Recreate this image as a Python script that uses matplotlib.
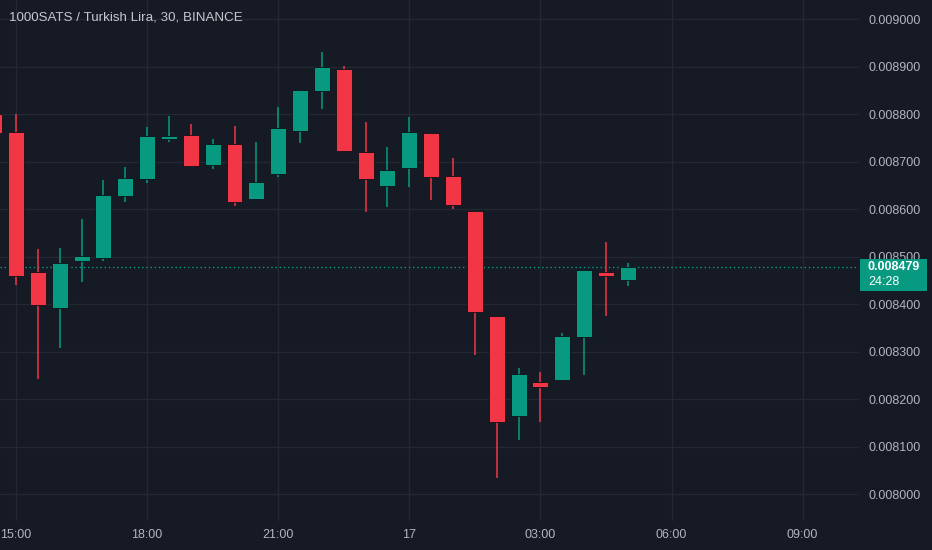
import numpy as np
import matplotlib
matplotlib.use("Agg")
import matplotlib.pyplot as plt
from matplotlib.patches import Rectangle

plt.rcParams["font.family"] = ["Liberation Sans", "DejaVu Sans"]

# 30 minute candles, prices in units of 1e-6 TRY (first candle is 14:30)
opens = [8800, 8763, 8467, 8392, 8491, 8497, 8628, 8663, 8747, 8756, 8692,
         8737, 8621, 8674, 8764, 8848, 8894, 8719, 8648, 8687, 8761, 8670,
         8595, 8375, 8164, 8236, 8240, 8331, 8467, 8451]
highs = [8800, 8800, 8515, 8517, 8580, 8661, 8689, 8772, 8796, 8778, 8748,
         8775, 8742, 8815, 8851, 8931, 8901, 8783, 8731, 8794, 8761, 8707,
         8595, 8375, 8266, 8257, 8338, 8471, 8530, 8486]
lows = [8756, 8440, 8242, 8308, 8447, 8491, 8615, 8654, 8742, 8689, 8684,
        8607, 8621, 8668, 8740, 8810, 8723, 8593, 8604, 8646, 8619, 8600,
        8293, 8033, 8114, 8151, 8240, 8251, 8375, 8437]
closes = [8760, 8460, 8399, 8486, 8501, 8629, 8665, 8754, 8754, 8691, 8737,
          8615, 8656, 8770, 8851, 8898, 8723, 8664, 8682, 8763, 8668, 8609,
          8384, 8151, 8253, 8225, 8333, 8471, 8460, 8479]
first_index = -1
tick_pos = [0, 6, 12, 18, 24, 30, 36]
tick_labels = ["15:00", "18:00", "21:00", "17", "03:00", "06:00", "09:00"]
price_ticks = [8000, 8100, 8200, 8300, 8400, 8500, 8600, 8700, 8800, 8900, 9000]
last_price = 8479
countdown = "24:28"
title = "1000SATS / Turkish Lira, 30, BINANCE"

bg = "#161a25"
grid_c = "#242833"
text_c = "#b2b5be"
up_c = "#089981"
down_c = "#f23645"

o = np.array(opens) * 1e-6
h = np.array(highs) * 1e-6
l = np.array(lows) * 1e-6
c = np.array(closes) * 1e-6
x = np.arange(len(o)) + first_index
cols = np.where(c >= o, up_c, down_c)

W, H = 932, 550
fig = plt.figure(figsize=(W / 100, H / 100), dpi=100, facecolor=bg)
ax = fig.add_axes([0, 29 / H, 859 / W, 521 / H])
ax.set_facecolor(bg)
for s in ax.spines.values():
    s.set_visible(False)

ax.set_xlim(-0.732, 38.58)
ax.set_ylim(0.0079433, 0.0090400)

ax.set_xticks(tick_pos)
ax.set_xticklabels(tick_labels)
ax.set_yticks(np.array(price_ticks) * 1e-6)
ax.set_yticklabels([f"{p * 1e-6:.6f}" for p in price_ticks])
ax.yaxis.tick_right()
ax.tick_params(axis="both", length=0, colors=text_c, labelsize=9)
ax.tick_params(axis="x", pad=6)
ax.tick_params(axis="y", pad=7)
for t in ax.get_yticklabels():
    t.set_horizontalalignment("left")
ax.grid(True, color=grid_c, linewidth=1)
ax.set_axisbelow(True)

# wicks and bodies
ax.vlines(x, l, h, colors=cols, linewidth=1.1, zorder=2)
bottoms = np.minimum(o, c)
heights = np.maximum(np.abs(c - o), 0.0000005)
ax.bar(x, heights, bottom=bottoms, width=0.73, color=cols,
       edgecolor="#0e1119", linewidth=0.6, zorder=3)

# last price line
ax.axhline(last_price * 1e-6, color=up_c, linestyle=(0, (1, 2)),
           linewidth=1, zorder=1)

# price tag on the scale
ylo, yhi = ax.get_ylim()
ty = 29 + (last_price * 1e-6 - ylo) / (yhi - ylo) * 521
fig.patches.append(Rectangle((860 / W, (ty - 24) / H), 67 / W, 32 / H,
                             transform=fig.transFigure, facecolor=up_c,
                             edgecolor="none", zorder=5))
fig.text(868 / W, (ty + 0) / H, f"{last_price * 1e-6:.6f}", color="white",
         fontsize=9, ha="left", va="center", zorder=6, fontweight="bold")
fig.text(868 / W, (ty - 15) / H, countdown, color="white",
         fontsize=9, ha="left", va="center", zorder=6)

fig.text(9 / W, 1 - 17 / H, title, color="#c4c7ce", fontsize=9.6,
         ha="left", va="center")

fig.savefig("out.png", dpi=100, facecolor=bg)
